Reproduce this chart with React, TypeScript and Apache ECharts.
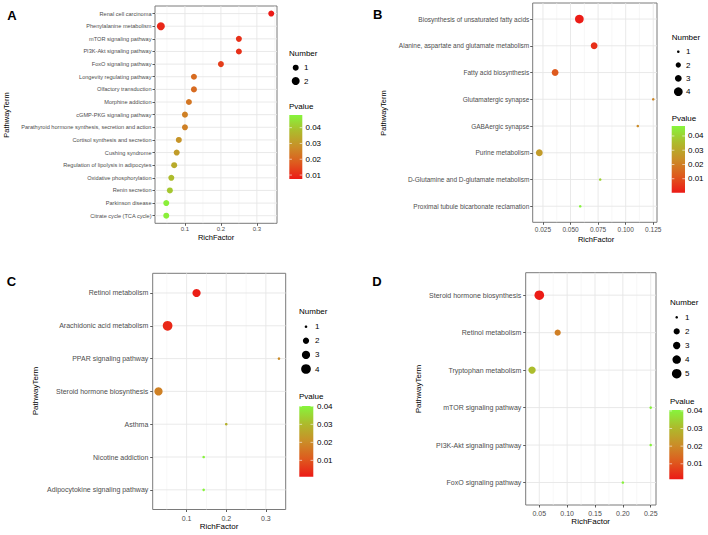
import React, { useEffect, useRef } from "react";
import * as echarts from "echarts";

const FONT = "'Liberation Sans', Arial, Helvetica, sans-serif";

// ---------- Panel A ----------
const termsA = [
  "Renal cell carcinoma",
  "Phenylalanine metabolism",
  "mTOR signaling pathway",
  "PI3K-Akt signaling pathway",
  "FoxO signaling pathway",
  "Longevity regulating pathway",
  "Olfactory transduction",
  "Morphine addiction",
  "cGMP-PKG signaling pathway",
  "Parathyroid hormone synthesis, secretion and action",
  "Cortisol synthesis and secretion",
  "Cushing syndrome",
  "Regulation of lipolysis in adipocytes",
  "Oxidative phosphorylation",
  "Renin secretion",
  "Parkinson disease",
  "Citrate cycle (TCA cycle)",
];
const richA = [0.34, 0.033, 0.25, 0.25, 0.2, 0.125, 0.125, 0.111, 0.1, 0.1, 0.083, 0.077, 0.07, 0.062, 0.058, 0.048, 0.048];
const numA = [1, 2, 1, 1, 1, 1, 1, 1, 1, 1, 1, 1, 1, 1, 1, 1, 1];
const pA = [0.0075, 0.0095, 0.011, 0.011, 0.013, 0.021, 0.021, 0.023, 0.025, 0.025, 0.029, 0.031, 0.034, 0.038, 0.040, 0.047, 0.047];
const xTicksA = [0.1, 0.2, 0.3];
const xLabelsA = ["0.1", "0.2", "0.3"];
const xMinorA = [0.05, 0.15, 0.25, 0.35];
const numLegendA = [1, 2];

// ---------- Panel B ----------
const termsB = [
  "Biosynthesis of unsaturated fatty acids",
  "Alanine, aspartate and glutamate metabolism",
  "Fatty acid biosynthesis",
  "Glutamatergic synapse",
  "GABAergic synapse",
  "Purine metabolism",
  "D-Glutamine and D-glutamate metabolism",
  "Proximal tubule bicarbonate reclamation",
];
const richB = [0.058, 0.0714, 0.036, 0.125, 0.111, 0.0217, 0.0769, 0.0588];
const numB = [4, 3, 3, 1, 1, 3, 1, 1];
const pB = [0.0005, 0.004, 0.012, 0.022, 0.023, 0.027, 0.040, 0.047];
const xTicksB = [0.025, 0.05, 0.075, 0.1, 0.125];
const xLabelsB = ["0.025", "0.050", "0.075", "0.100", "0.125"];
const xMinorB = [0.0375, 0.0625, 0.0875, 0.1125];
const numLegendB = [1, 2, 3, 4];

// ---------- Panel C ----------
const termsC = [
  "Retinol metabolism",
  "Arachidonic acid metabolism",
  "PPAR signaling pathway",
  "Steroid hormone biosynthesis",
  "Asthma",
  "Nicotine addiction",
  "Adipocytokine signaling pathway",
];
const richC = [0.125, 0.052, 0.333, 0.029, 0.2, 0.143, 0.143];
const numC = [3, 4, 1, 3, 1, 1, 1];
const pC = [0.0015, 0.003, 0.02, 0.018, 0.028, 0.04, 0.04];
const xTicksC = [0.1, 0.2, 0.3];
const xLabelsC = ["0.1", "0.2", "0.3"];
const xMinorC = [0.05, 0.15, 0.25];
const numLegendC = [1, 2, 3, 4];

// ---------- Panel D ----------
const termsD = [
  "Steroid hormone biosynthesis",
  "Retinol metabolism",
  "Tryptophan metabolism",
  "mTOR signaling pathway",
  "PI3K-Akt signaling pathway",
  "FoxO signaling pathway",
];
const richD = [0.05, 0.083, 0.037, 0.25, 0.25, 0.2];
const numD = [5, 2, 3, 1, 1, 1];
const pD = [0.0015, 0.018, 0.031, 0.04, 0.04, 0.04];
const xTicksD = [0.05, 0.1, 0.15, 0.2, 0.25];
const xLabelsD = ["0.05", "0.10", "0.15", "0.20", "0.25"];
const xMinorD = [0.075, 0.125, 0.175, 0.225];
const numLegendD = [1, 2, 3, 4, 5];

const pTicks = [0.01, 0.02, 0.03, 0.04];
const pTickLabels = ["0.01", "0.02", "0.03", "0.04"];

const PALETTE = ["#EC1A16", "#DE5A1E", "#CA8E28", "#ADBB2C", "#86F53C"];

const panels = [
  {
    letter: "A", terms: termsA, rich: richA, num: numA, p: pA,
    xTicks: xTicksA, xLabels: xLabelsA, xMinor: xMinorA, numLegend: numLegendA,
    grid: { left: 155, top: 6, width: 122, height: 217.3 },
    xmin: 0.0167, xmax: 0.356, pRange: [0.0075, 0.048],
    yFont: 5.6, xFont: 6, yMargin: 3.5, xMargin: 3, titleFont: 7.5,
    sizes: { 1: 6, 2: 8 } as Record<number, number>,
    letterPos: [12, 15], xTitle: [216, 237.7], yTitle: [6, 115],
    leg: { x: 289, numY: 53.3, itemY0: 67.7, itemDy: 13.3, dotX: 295.7, textX: 304, pY: 107.5, bar: [289.3, 115, 13, 64], labX: 305.5, font: 8 },
  },
  {
    letter: "B", terms: termsB, rich: richB, num: numB, p: pB,
    xTicks: xTicksB, xLabels: xLabelsB, xMinor: xMinorB, numLegend: numLegendB,
    grid: { left: 532.7, top: 3, width: 124.3, height: 219.3 },
    xmin: 0.0157, xmax: 0.1284, pRange: [0.0002, 0.047],
    yFont: 6.5, xFont: 6.5, yMargin: 3.4, xMargin: 3.7, titleFont: 7.5,
    sizes: { 1: 2.6, 2: 5.3, 3: 6.8, 4: 8.7 } as Record<number, number>,
    letterPos: [377.7, 14.5], xTitle: [596, 239], yTitle: [383.3, 113],
    leg: { x: 671.7, numY: 37.3, itemY0: 51.7, itemDy: 13.33, dotX: 678.3, textX: 686, pY: 119, bar: [671.7, 126, 13.3, 66.7], labX: 688, font: 8 },
  },
  {
    letter: "C", terms: termsC, rich: richC, num: numC, p: pC,
    xTicks: xTicksC, xLabels: xLabelsC, xMinor: xMinorC, numLegend: numLegendC,
    grid: { left: 152.7, top: 273.3, width: 133, height: 236.2 },
    xmin: 0.0144, xmax: 0.35, pRange: [0.0009, 0.0402],
    yFont: 7, xFont: 7, yMargin: 4.4, xMargin: 5, titleFont: 8,
    sizes: { 1: 2.6, 2: 6.3, 3: 8.2, 4: 9.7 } as Record<number, number>,
    letterPos: [11.5, 281.5], xTitle: [219, 526.7], yTitle: [35, 391],
    leg: { x: 299, numY: 311.7, itemY0: 326.7, itemDy: 14.1, dotX: 306, textX: 315, pY: 397.3, bar: [299.3, 406, 14, 70.7], labX: 317, font: 8 },
  },
  {
    letter: "D", terms: termsD, rich: richD, num: numD, p: pD,
    xTicks: xTicksD, xLabels: xLabelsD, xMinor: xMinorD, numLegend: numLegendD,
    grid: { left: 525.7, top: 272.7, width: 130.3, height: 232.3 },
    xmin: 0.0256, xmax: 0.2595, pRange: [0.0012, 0.0405],
    yFont: 7, xFont: 7, yMargin: 4.4, xMargin: 4.8, titleFont: 8,
    sizes: { 1: 2.6, 2: 6.2, 3: 7.4, 4: 8.5, 5: 9.6 } as Record<number, number>,
    letterPos: [377, 281.7], xTitle: [590.7, 521.7], yTitle: [418.3, 389],
    leg: { x: 670, numY: 302.7, itemY0: 317.3, itemDy: 14.1, dotX: 676.7, textX: 685, pY: 402.3, bar: [669.3, 410, 14, 69.3], labX: 687, font: 8 },
  },
];

function text(x: number, y: number, t: string, size: number, opts: any = {}) {
  return {
    type: "text",
    x,
    y,
    rotation: opts.rotation || 0,
    silent: true,
    z: 5,
    style: {
      text: t,
      fontSize: size,
      fontFamily: FONT,
      fontWeight: opts.bold ? "bold" : "normal",
      fill: opts.fill || "#000000",
      align: opts.align || "left",
      verticalAlign: "middle",
    },
  };
}

function line(x1: number, y1: number, x2: number, y2: number, stroke: string, w: number, z = 0) {
  return {
    type: "line",
    silent: true,
    z,
    shape: { x1, y1, x2, y2 },
    style: { stroke, lineWidth: w },
  };
}

export default function App() {
  const ref = useRef<HTMLDivElement>(null);

  useEffect(() => {
    if (!ref.current) return;
    const chart = echarts.init(ref.current, null, { renderer: "svg" });

    const grids: any[] = [];
    const xAxes: any[] = [];
    const yAxes: any[] = [];
    const series: any[] = [];
    const visualMaps: any[] = [];
    const titles: any[] = [];

    panels.forEach((P, i) => {
      const n = P.terms.length;
      const idx = P.terms.map((_, k) => k);
      grids.push({
        ...P.grid,
        show: true,
        borderColor: "#7a7a7a",
        borderWidth: 1,
        backgroundColor: "transparent",
        containLabel: false,
      });
      xAxes.push({
        type: "value",
        gridIndex: i,
        position: "bottom",
        min: P.xmin,
        max: P.xmax,
        splitLine: { show: false },
        axisLine: { show: false, onZero: false },
        axisTick: {
          show: true,
          customValues: P.xTicks,
          length: 2.5,
          lineStyle: { color: "#333", width: 0.8 },
        },
        axisLabel: {
          customValues: P.xTicks,
          formatter: (v: number) => {
            const k = P.xTicks.findIndex((t) => Math.abs(t - v) < 1e-9);
            return k >= 0 ? P.xLabels[k] : "";
          },
          fontSize: P.xFont,
          fontFamily: FONT,
          color: "#4D4D4D",
          margin: P.xMargin,
        },
      });
      yAxes.push({
        type: "value",
        gridIndex: i,
        position: "left",
        inverse: true,
        min: -0.6,
        max: n - 0.4,
        splitLine: { show: false },
        axisLine: { show: false, onZero: false },
        axisTick: {
          show: true,
          customValues: idx,
          length: 2.5,
          lineStyle: { color: "#333", width: 0.8 },
        },
        axisLabel: {
          customValues: idx,
          formatter: (v: number) => P.terms[Math.round(v)] ?? "",
          fontSize: P.yFont,
          fontFamily: FONT,
          color: "#4D4D4D",
          margin: P.yMargin,
        },
      });

      series.push({
        type: "scatter",
        xAxisIndex: i,
        yAxisIndex: i,
        z: 3,
        data: P.terms.map((_, k) => [P.rich[k], k, P.p[k], P.num[k]]),
        symbol: "circle",
        symbolSize: (v: number[]) => P.sizes[v[3]],
        itemStyle: { opacity: 1 },
      });

      visualMaps.push({
        show: false,
        type: "continuous",
        seriesIndex: i,
        dimension: 2,
        min: P.pRange[0],
        max: P.pRange[1],
        inRange: { color: PALETTE },
      });

      titles.push({
        text: "Pvalue",
        left: P.leg.x,
        top: P.leg.pY - 4.6,
        padding: 0,
        textStyle: { fontSize: P.leg.font, fontWeight: "normal", color: "#000000", fontFamily: FONT },
      });
    });

    chart.setOption({
      animation: false,
      backgroundColor: "#fff",
      textStyle: { fontFamily: FONT },
      title: titles,
      grid: grids,
      xAxis: xAxes,
      yAxis: yAxes,
      visualMap: visualMaps,
      series,
    });

    const graphics: any[] = [];
    panels.forEach((P, i) => {
      const top = P.grid.top;
      const bottom = P.grid.top + P.grid.height;
      const left = P.grid.left;
      const right = P.grid.left + P.grid.width;
      P.xMinor.forEach((v) => {
        const x = chart.convertToPixel({ xAxisIndex: i } as any, v) as number;
        graphics.push(line(x, top, x, bottom, "#F2F2F2", 0.6));
      });
      P.xTicks.forEach((v) => {
        const x = chart.convertToPixel({ xAxisIndex: i } as any, v) as number;
        graphics.push(line(x, top, x, bottom, "#E6E6E6", 0.9));
      });
      P.terms.forEach((_, k) => {
        const y = chart.convertToPixel({ yAxisIndex: i } as any, k) as number;
        graphics.push(line(left, y, right, y, "#E6E6E6", 0.9));
      });

      const L = P.leg;
      graphics.push(text(P.letterPos[0], P.letterPos[1], P.letter, 13, { bold: true, align: "center" }));
      graphics.push(text(P.xTitle[0], P.xTitle[1], "RichFactor", P.titleFont, { align: "center" }));
      graphics.push(text(P.yTitle[0], P.yTitle[1], "PathwayTerm", P.titleFont, { align: "center", rotation: Math.PI / 2 }));

      graphics.push(text(L.x, L.numY, "Number", L.font));
      P.numLegend.forEach((nv, k) => {
        const y = L.itemY0 + k * L.itemDy;
        graphics.push({
          type: "circle",
          silent: true,
          z: 5,
          shape: { cx: L.dotX, cy: y, r: P.sizes[nv] / 2 },
          style: { fill: "#000000" },
        });
        graphics.push(text(L.textX, y, String(nv), L.font));
      });

      const [bx, by, bw, bh] = L.bar;
      graphics.push({
        type: "rect",
        silent: true,
        z: 4,
        shape: { x: bx, y: by, width: bw, height: bh },
        style: {
          fill: new echarts.graphic.LinearGradient(0, 1, 0, 0,
            PALETTE.map((c, k) => ({ offset: k / (PALETTE.length - 1), color: c }))),
        },
      });
      pTicks.forEach((pv, k) => {
        const y = by + bh - ((pv - P.pRange[0]) / (P.pRange[1] - P.pRange[0])) * bh;
        if (y < by - 0.5) return;
        graphics.push(line(bx, y, bx + bw * 0.2, y, "#ffffff", 0.6, 5));
        graphics.push(line(bx + bw * 0.8, y, bx + bw, y, "#ffffff", 0.6, 5));
        graphics.push(text(L.labX, y, pTickLabels[k], L.font));
      });
    });

    chart.setOption({ graphic: { elements: graphics } });

    return () => chart.dispose();
  }, []);

  return (
    <div
      ref={ref}
      style={{ position: "absolute", left: 0, top: 0, width: 708, height: 535, background: "#fff" }}
    />
  );
}
